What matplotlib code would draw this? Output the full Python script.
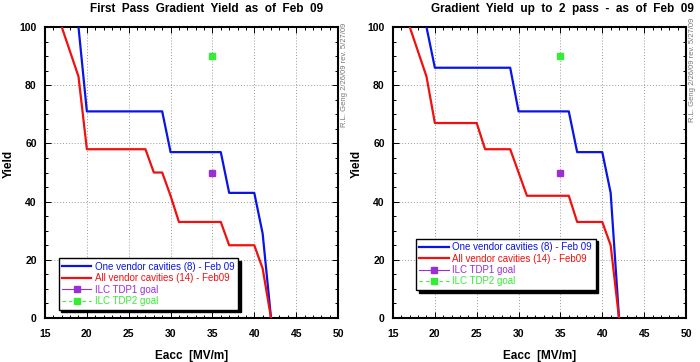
import matplotlib
matplotlib.use("Agg")
import matplotlib.pyplot as plt
from matplotlib.ticker import MultipleLocator

plt.rcParams['font.family'] = ['Liberation Sans', 'DejaVu Sans']

# ---------------------------------------------------------------------------
# Data

# first pass
first_one_x = [19, 20, 29, 30, 36, 37, 40, 41, 42]
first_one_y = [100, 71, 71, 57, 57, 43, 43, 29, 0]
first_all_x = [17, 19, 20, 27, 28, 29, 30, 31, 36, 37, 40, 41, 42]
first_all_y = [100, 83, 58, 58, 50, 50, 42, 33, 33, 25, 25, 17, 0]

# up to 2 pass
second_one_x = [19, 20, 29, 30, 36, 37, 40, 41, 42]
second_one_y = [100, 86, 86, 71, 71, 57, 57, 43, 0]
second_all_x = [17, 19, 20, 25, 26, 29, 30, 31, 36, 37, 40, 41, 42]
second_all_y = [100, 83, 67, 67, 58, 58, 50, 42, 42, 33, 33, 25, 0]

goal_x = [35]
tdp1_y = [50]
tdp2_y = [90]

titles = ["First  Pass  Gradient  Yield  as  of  Feb  09",
          "Gradient  Yield  up  to  2  pass  -  as  of  Feb  09"]
labels = ["One vendor cavities (8) - Feb 09",
          "All vendor cavities (14) - Feb09",
          "ILC TDP1 goal",
          "ILC TDP2 goal"]
stamp = "R.L. Geng 2/26/09 rev. 5/27/09"

BLUE = '#0a14e6'
RED = '#f01010'
PURPLE = '#9a2fd6'
GREEN = '#33ee33'

# ---------------------------------------------------------------------------
# Plot

W, H = 700, 362
fig = plt.figure(figsize=(7, 3.62), dpi=100)


def px_axes(x0, x1, y0, y1):
    return fig.add_axes([x0 / W, 1 - y1 / H, (x1 - x0) / W, (y1 - y0) / H])


panels = [
    (px_axes(45, 338, 27, 318), first_one_x, first_one_y, first_all_x, first_all_y,
     (0.03, 0.012), 207, 345, 75),
    (px_axes(393, 686, 27, 318), second_one_x, second_one_y, second_all_x, second_all_y,
     (0.062, 0.08), 562, 692, 70),
]

for i, (ax, ox, oy, axx, ayy, leg_pos, title_x, stamp_x, stamp_y) in enumerate(panels):
    ax.plot(ox, oy, color=BLUE, lw=1.6, label=labels[0], zorder=3)
    ax.plot(axx, ayy, color=RED, lw=1.6, label=labels[1], zorder=3)
    ax.plot(goal_x, tdp1_y, color=PURPLE, lw=0.8, ls='-', marker='s', ms=5,
            label=labels[2], zorder=4)
    ax.plot(goal_x, tdp2_y, color=GREEN, lw=0.8, ls=(0, (3, 3)), marker='s', ms=5,
            label=labels[3], zorder=4)

    ax.set_xlim(15, 50)
    ax.set_ylim(0, 100)
    ax.xaxis.set_major_locator(MultipleLocator(5))
    ax.xaxis.set_minor_locator(MultipleLocator(1))
    ax.yaxis.set_major_locator(MultipleLocator(20))
    ax.yaxis.set_minor_locator(MultipleLocator(5))
    ax.tick_params(which='both', direction='in', top=True, right=True,
                   labelsize=7.5, width=0.7)
    ax.tick_params(which='major', length=4)
    ax.tick_params(which='minor', length=2)
    ax.tick_params(axis='x', pad=8)
    ax.tick_params(axis='y', pad=6)
    for lab in ax.get_xticklabels() + ax.get_yticklabels():
        lab.set_fontweight('bold')
    ax.grid(True, which='major', color='#999999', ls=(0, (1, 2)), lw=0.7)
    for sp in ax.spines.values():
        sp.set_linewidth(1.5)

    ax.set_xlabel("Eacc  [MV/m]", fontsize=8.5, fontweight='bold', labelpad=8)
    ax.set_ylabel("Yield", fontsize=8.5, fontweight='bold')
    ax.yaxis.set_label_coords(-0.103, 0.53)

    leg = ax.legend(loc='lower left', bbox_to_anchor=leg_pos, fontsize=7,
                    frameon=True, fancybox=False,
                    shadow={'color': 'black', 'alpha': 1, 'ox': 2, 'oy': -2},
                    edgecolor='black', framealpha=1, handlelength=3.0,
                    borderpad=0.35, labelspacing=0.15, handletextpad=0.4)
    leg.get_frame().set_linewidth(1.0)
    for txt, c in zip(leg.get_texts(), [BLUE, RED, PURPLE, GREEN]):
        txt.set_color(c)

    fig.text(title_x / W, 1 - 9 / H, titles[i], ha='center', va='center',
             fontsize=8.5, fontweight='bold')
    fig.text(stamp_x / W, 1 - stamp_y / H, stamp, ha='center', va='center',
             rotation=90, fontsize=5.5, color='#777777',
             family=['Liberation Sans Narrow', 'Liberation Sans'])

fig.savefig("out.png", dpi=100)
